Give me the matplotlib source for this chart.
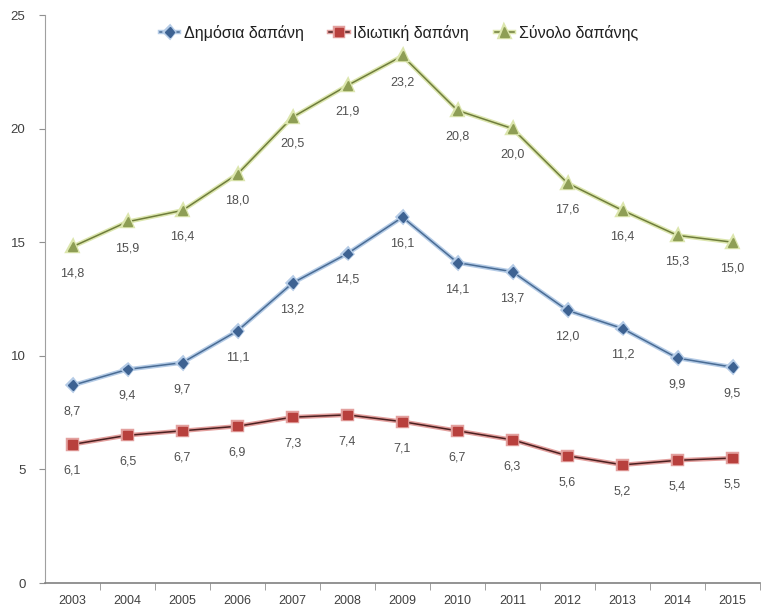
import matplotlib
matplotlib.use("Agg")
import matplotlib.pyplot as plt
import matplotlib.patheffects as pe
from matplotlib import font_manager

names = {f.name for f in font_manager.fontManager.ttflist}
family = ["Liberation Sans Narrow", "DejaVu Sans"] if "Liberation Sans Narrow" in names else ["Liberation Sans", "DejaVu Sans"]
plt.rcParams["font.family"] = family

years = ["2003", "2004", "2005", "2006", "2007", "2008", "2009",
         "2010", "2011", "2012", "2013", "2014", "2015"]
public = [8.7, 9.4, 9.7, 11.1, 13.2, 14.5, 16.1, 14.1, 13.7, 12.0, 11.2, 9.9, 9.5]
private = [6.1, 6.5, 6.7, 6.9, 7.3, 7.4, 7.1, 6.7, 6.3, 5.6, 5.2, 5.4, 5.5]
total = [14.8, 15.9, 16.4, 18.0, 20.5, 21.9, 23.2, 20.8, 20.0, 17.6, 16.4, 15.3, 15.0]
series_names = ["Δημόσια δαπάνη", "Ιδιωτική δαπάνη", "Σύνολο δαπάνης"]

fig = plt.figure(figsize=(7.63, 6.11), dpi=100)
ax = fig.add_axes([45 / 763, 28 / 611, 715 / 763, 568 / 611])

x = list(range(len(years)))
styles = [
    # core, halo, marker face, marker, size
    ("#4A6C94", "#B4CBE6", "#3D6292", "D", 5),
    ("#4A2020", "#E3A09E", "#B8403D", "s", 6),
    ("#6F7D3C", "#DCE6AE", "#8E9E55", "^", 6.5),
]
for vals, name, (core, halo, mface, mk, ms) in zip([public, private, total], series_names, styles):
    ax.plot(x, vals, color=core, lw=1.1, marker=mk, ms=ms, mfc=mface, mec=mface,
            label=name, zorder=3,
            path_effects=[pe.Stroke(linewidth=3.2, foreground=halo), pe.Normal()])
    for xi, v in zip(x, vals):
        ax.annotate(f"{v:.1f}".replace(".", ","), (xi, v), xytext=(0, -19),
                    textcoords="offset points", ha="center", va="center",
                    fontsize=9, color="#505050")

ax.set_xlim(-0.5, len(years) - 0.5)
ax.set_ylim(0, 25)
ax.set_yticks([0, 5, 10, 15, 20, 25])
ax.set_xticks(x)
ax.set_xticklabels(years)
ax.set_xticks([i + 0.5 for i in x], minor=True)
ax.tick_params(axis="x", which="major", length=0, pad=9, labelsize=9, labelcolor="#404040")
ax.tick_params(axis="x", which="minor", length=5, color="#909090", direction="out")
ax.tick_params(axis="y", length=4, color="#909090", pad=10, labelsize=9.5, labelcolor="#404040")
for s in ["top", "right"]:
    ax.spines[s].set_visible(False)
ax.spines["left"].set_color("#A0A0A0")
ax.spines["bottom"].set_color("#808080")
ax.spines["bottom"].set_linewidth(1.2)

leg = ax.legend(loc="upper center", bbox_to_anchor=(0.495, 1.0), ncol=3, frameon=False,
                fontsize=11.5, handlelength=1.2, handletextpad=0.3, columnspacing=1.6,
                borderaxespad=0.2)
for t in leg.get_texts():
    t.set_color("#202020")

fig.savefig("out.png", dpi=100)
